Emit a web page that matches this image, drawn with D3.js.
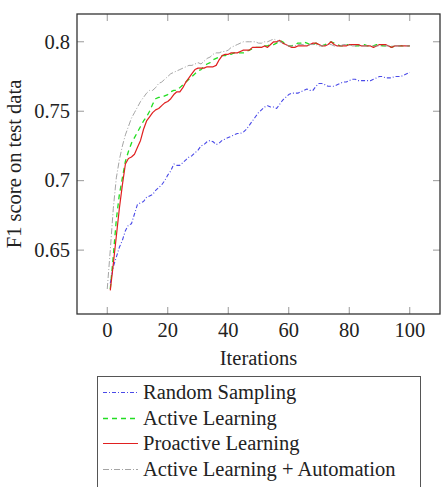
<!DOCTYPE html>
<html><head><meta charset="utf-8">
<script src="https://cdn.jsdelivr.net/npm/d3@7"></script>
<style>body{margin:0;background:#fff}svg{display:block}</style>
</head><body>
<svg id="c" width="441" height="487"></svg>
<script>
const xTicks = [0, 20, 40, 60, 80, 100];
const yTicks = [0.65, 0.7, 0.75, 0.8];
const yTickLabels = ["0.65", "0.7", "0.75", "0.8"];
const seriesNames = ["Random Sampling", "Active Learning", "Proactive Learning", "Active Learning + Automation"];

const randomX = d3.range(1, 101);
const randomY = [0.626,0.638,0.645,0.652,0.657,0.664,0.668,0.669,0.676,0.683,
0.684,0.685,0.688,0.689,0.690,0.693,0.695,0.697,0.700,0.704,
0.707,0.712,0.711,0.711,0.713,0.715,0.717,0.718,0.720,0.722,
0.725,0.726,0.728,0.729,0.728,0.726,0.727,0.729,0.730,0.731,
0.732,0.733,0.734,0.734,0.735,0.737,0.740,0.743,0.746,0.749,
0.751,0.753,0.754,0.753,0.753,0.752,0.755,0.758,0.760,0.762,
0.763,0.763,0.763,0.764,0.765,0.766,0.765,0.765,0.768,0.770,
0.770,0.769,0.768,0.768,0.768,0.769,0.770,0.771,0.771,0.772,
0.773,0.773,0.772,0.772,0.772,0.772,0.772,0.773,0.774,0.775,
0.775,0.774,0.774,0.774,0.775,0.775,0.775,0.776,0.777,0.778];

const activeX = d3.range(1, 101);
const activeY = [0.622,0.646,0.672,0.690,0.702,0.714,0.721,0.727,0.731,0.735,
0.739,0.743,0.746,0.750,0.755,0.759,0.760,0.760,0.761,0.762,
0.764,0.765,0.765,0.767,0.769,0.771,0.773,0.775,0.777,0.779,
0.780,0.782,0.784,0.785,0.787,0.788,0.789,0.790,0.790,0.791,
0.791,0.792,0.792,0.792,0.792,0.793,0.794,0.795,0.796,0.796,
0.796,0.797,0.797,0.798,0.798,0.799,0.801,0.800,0.798,0.797,
0.797,0.798,0.799,0.799,0.800,0.799,0.798,0.798,0.799,0.798,
0.797,0.798,0.799,0.800,0.799,0.798,0.797,0.797,0.798,0.798,
0.798,0.797,0.797,0.798,0.798,0.797,0.797,0.797,0.798,0.798,
0.797,0.797,0.797,0.796,0.797,0.797,0.797,0.797,0.797,0.797];

const proactiveX = d3.range(1, 101);
const proactiveY = [0.621,0.640,0.660,0.680,0.697,0.712,0.716,0.717,0.719,0.724,
0.729,0.737,0.743,0.746,0.749,0.751,0.752,0.754,0.756,0.757,
0.759,0.762,0.764,0.764,0.767,0.771,0.774,0.777,0.780,0.781,
0.781,0.781,0.782,0.782,0.782,0.783,0.787,0.790,0.791,0.791,
0.792,0.792,0.792,0.793,0.794,0.794,0.794,0.796,0.796,0.796,
0.796,0.797,0.796,0.798,0.800,0.800,0.801,0.799,0.798,0.797,
0.796,0.796,0.797,0.797,0.797,0.797,0.798,0.799,0.799,0.798,
0.797,0.797,0.798,0.800,0.798,0.797,0.797,0.797,0.797,0.798,
0.798,0.798,0.798,0.797,0.797,0.797,0.797,0.796,0.797,0.798,
0.798,0.798,0.797,0.796,0.797,0.797,0.797,0.797,0.797,0.797];

const autoX = d3.range(0, 101);
const autoY = [0.622,0.650,0.680,0.702,0.715,0.725,0.733,0.739,0.745,0.749,
0.753,0.757,0.760,0.763,0.765,0.765,0.767,0.770,0.771,0.773,
0.775,0.777,0.778,0.779,0.780,0.781,0.782,0.783,0.783,0.784,
0.785,0.784,0.786,0.788,0.789,0.791,0.792,0.792,0.793,0.793,
0.794,0.796,0.797,0.798,0.799,0.800,0.800,0.800,0.800,0.800,
0.799,0.799,0.800,0.800,0.801,0.802,0.801,0.800,0.799,0.798,
0.797,0.797,0.797,0.798,0.798,0.798,0.797,0.798,0.798,0.798,
0.797,0.797,0.798,0.798,0.798,0.797,0.797,0.797,0.798,0.798,
0.798,0.797,0.797,0.797,0.797,0.797,0.797,0.797,0.797,0.797,
0.797,0.797,0.797,0.797,0.797,0.797,0.797,0.797,0.797,0.797,0.797];

const seriesStyles = [
  {color:"#4a4ae8", dash:"4,2,1,2", width:1.1},
  {color:"#22dd22", dash:"5,4", width:1.3},
  {color:"#e02020", dash:null, width:1.2},
  {color:"#9a9a9a", dash:"6,2,1,2", width:0.9}
];

const FONT = "'Liberation Serif','Times New Roman',Times,'DejaVu Serif',serif";
const svg = d3.select("#c").attr("font-family", FONT);
const L = 77, R = 440, T = 14, B = 314;
const x = d3.scaleLinear().domain([-10, 110]).range([L, R]);
const y = d3.scaleLinear().domain([0.604, 0.82]).range([B, T]);

const data = [
  randomX.map((d,i)=>[d, randomY[i]]),
  activeX.map((d,i)=>[d, activeY[i]]),
  proactiveX.map((d,i)=>[d, proactiveY[i]]),
  autoX.map((d,i)=>[d, autoY[i]])
];

// ticks (inside, mirrored)
const tl = 7;
const tg = svg.append("g").attr("stroke", "#999").attr("stroke-width", 1);
xTicks.forEach(t => {
  tg.append("line").attr("x1", x(t)).attr("x2", x(t)).attr("y1", B).attr("y2", B - tl);
  tg.append("line").attr("x1", x(t)).attr("x2", x(t)).attr("y1", T).attr("y2", T + tl);
});
yTicks.forEach(t => {
  tg.append("line").attr("x1", L).attr("x2", L + tl).attr("y1", y(t)).attr("y2", y(t));
  tg.append("line").attr("x1", R).attr("x2", R - tl).attr("y1", y(t)).attr("y2", y(t));
});

const line = d3.line().x(d => x(d[0])).y(d => y(d[1]));
data.forEach((s, i) => {
  const st = seriesStyles[i];
  const p = svg.append("path").datum(s).attr("d", line).attr("fill", "none")
    .attr("stroke", st.color).attr("stroke-width", st.width).attr("stroke-linejoin", "round");
  if (st.dash) p.attr("stroke-dasharray", st.dash);
});

// frame
svg.append("rect").attr("x", L).attr("y", T).attr("width", R - L).attr("height", B - T)
  .attr("fill", "none").attr("stroke", "#333").attr("stroke-width", 1.3);

const txt = (sel) => sel.attr("font-family", FONT).attr("font-size", "20.5px").attr("fill", "#222");

// tick labels
xTicks.forEach(t => {
  txt(svg.append("text")).attr("x", x(t)).attr("y", 337).attr("text-anchor", "middle").text(t);
});
yTicks.forEach((t, i) => {
  txt(svg.append("text")).attr("x", 70).attr("y", y(t)).attr("dy", "0.33em").attr("text-anchor", "end")
    .text(yTickLabels[i]);
});

txt(svg.append("text")).attr("x", (L + R) / 2).attr("y", 365).attr("text-anchor", "middle").text("Iterations");
txt(svg.append("text")).attr("transform", `translate(21,${(T + B) / 2}) rotate(-90)`)
  .attr("text-anchor", "middle").text("F1 score on test data");

// legend
const lg = svg.append("g");
lg.append("rect").attr("x", 97.5).attr("y", 376.5).attr("width", 323).attr("height", 120)
  .attr("fill", "#fff").attr("stroke", "#555").attr("stroke-width", 1);
seriesNames.forEach((n, i) => {
  const yy = Math.round(392 + i * 25.5) + 0.5;
  const st = seriesStyles[i];
  const l = lg.append("line").attr("x1", 103).attr("x2", 138).attr("y1", yy).attr("y2", yy)
    .attr("stroke", st.color).attr("stroke-width", st.width);
  if (st.dash) l.attr("stroke-dasharray", st.dash);
  txt(lg.append("text")).attr("x", 143).attr("y", yy).attr("dy", "0.33em").text(n);
});
</script>
</body></html>
